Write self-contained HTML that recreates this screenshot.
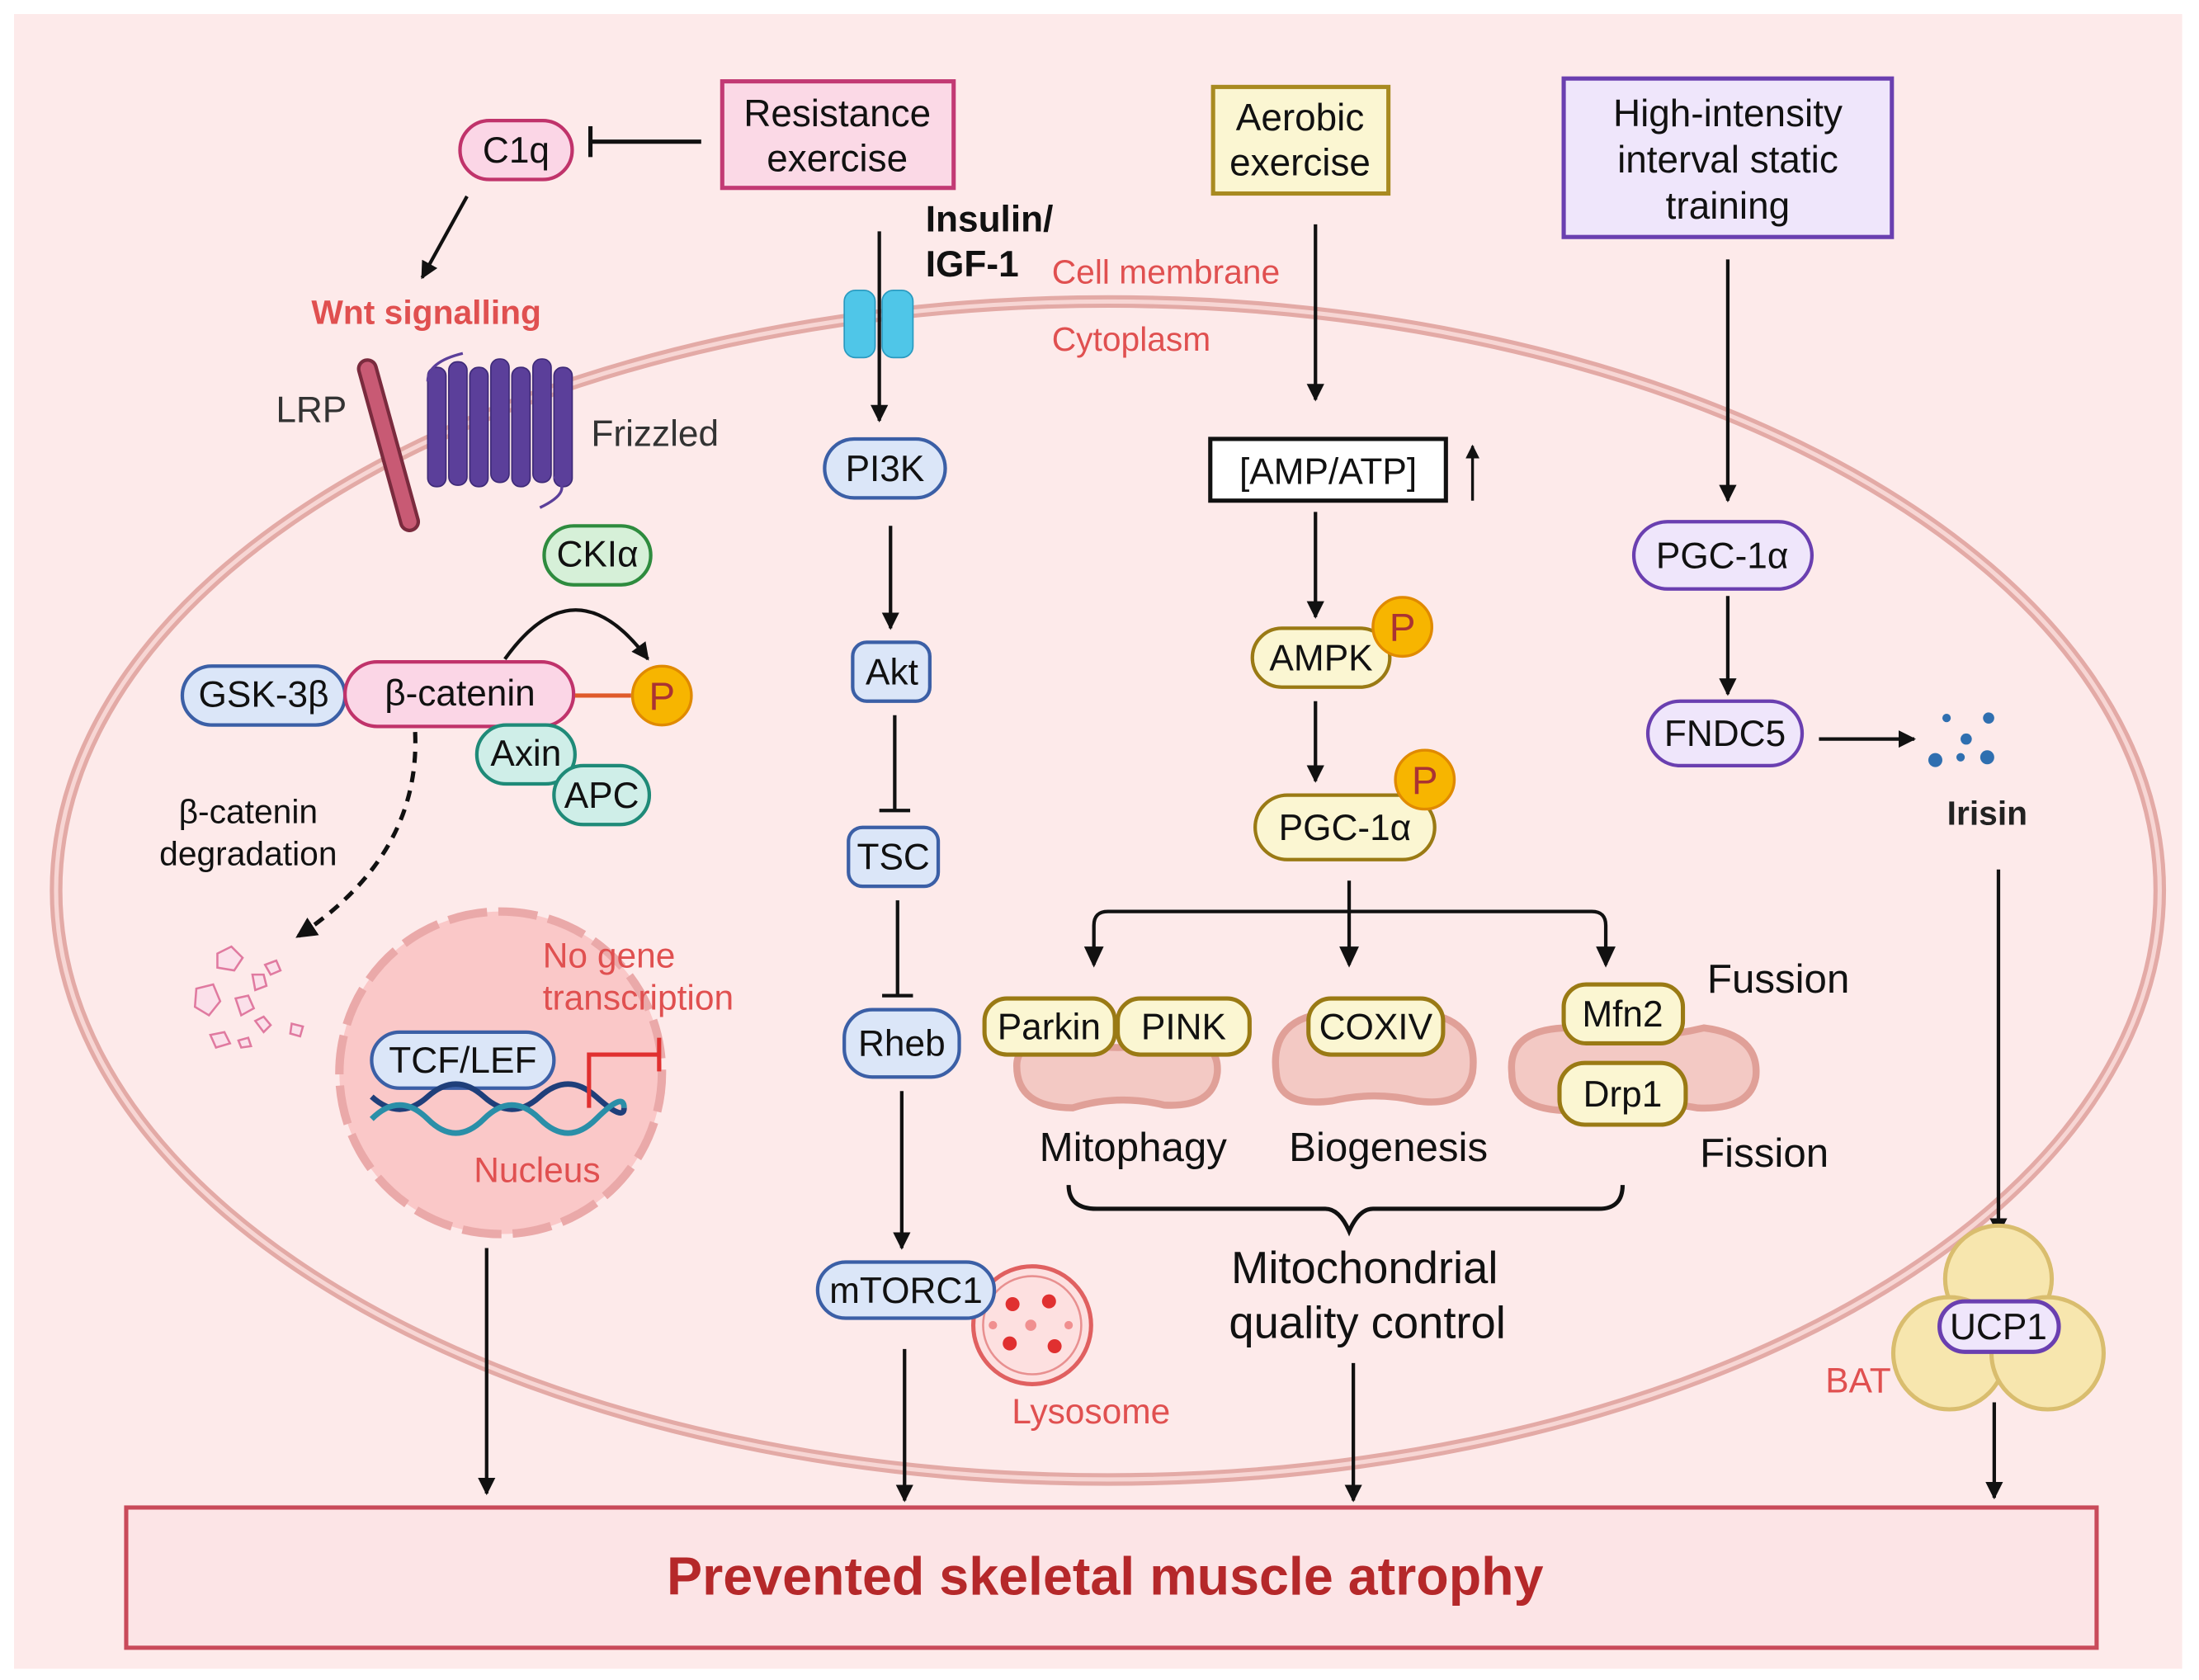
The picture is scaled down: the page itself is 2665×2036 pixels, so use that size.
<!DOCTYPE html>
<html><head><meta charset="utf-8"><style>html,body{margin:0;padding:0;background:#fff}svg{display:block}text{font-family:"Liberation Sans",sans-serif}</style></head><body>
<svg width="2665" height="2036" viewBox="0 0 1568 1198" preserveAspectRatio="none" xmlns="http://www.w3.org/2000/svg">
<defs>
<marker id="a" viewBox="0 0 10 10" refX="9" refY="5" markerWidth="5" markerHeight="5" orient="auto"><path d="M0,0L10,5L0,10z" fill="#111"/></marker>
</defs>
<rect x="10" y="10" width="1546" height="1180" fill="#fdeaea"/>
<ellipse cx="790" cy="635" rx="750" ry="420" fill="none" stroke="#e3aaa6" stroke-width="9"/>
<ellipse cx="790" cy="635" rx="750" ry="420" fill="none" stroke="#f7d6d4" stroke-width="3"/>

<g font-size="26" text-anchor="middle" fill="#111">
<!-- Left -->
<rect x="515" y="58" width="165" height="76" fill="#fbd9e6" stroke="#c23a74" stroke-width="3"/>
<text x="597" y="90" font-size="27">Resistance</text><text x="597" y="122" font-size="27">exercise</text>
<line x1="500" y1="101" x2="421" y2="101" stroke="#111" stroke-width="3"/><line x1="421" y1="90" x2="421" y2="112" stroke="#111" stroke-width="3"/>
<rect x="328" y="86" width="80" height="42" rx="21" fill="#fbd6e6" stroke="#c0336b" stroke-width="2.5"/><text x="368" y="116">C1q</text>
<line x1="333" y1="140" x2="301" y2="198" stroke="#111" stroke-width="2.5" marker-end="url(#a)"/>
<text x="304" y="231" font-size="24" font-weight="bold" fill="#e05050">Wnt signalling</text>
<text x="222" y="301" fill="#333">LRP</text>
<line x1="262" y1="263" x2="292" y2="372" stroke="#7a2b3e" stroke-width="15" stroke-linecap="round"/>
<line x1="262" y1="263" x2="292" y2="372" stroke="#c85a74" stroke-width="10" stroke-linecap="round"/>
<g fill="#5b3f9a" stroke="#3e2a78" stroke-width="1">
<rect x="305" y="262" width="13" height="85" rx="6"/><rect x="320" y="258" width="13" height="88" rx="6"/><rect x="335" y="262" width="13" height="85" rx="6"/><rect x="350" y="256" width="13" height="88" rx="6"/><rect x="365" y="262" width="13" height="85" rx="6"/><rect x="380" y="256" width="13" height="88" rx="6"/><rect x="395" y="262" width="13" height="85" rx="6"/></g>
<path d="M305,272 Q305,258 330,252 M395,340 Q410,350 385,362" fill="none" stroke="#5b3f9a" stroke-width="2"/>
<text x="467" y="318" fill="#333" text-anchor="middle">Frizzled</text>
<rect x="388" y="375" width="76" height="42" rx="21" fill="#d6f0d8" stroke="#2e8b3e" stroke-width="2.5"/><text x="426" y="404">CKIα</text>
<path d="M360,470 Q410,400 462,470" fill="none" stroke="#111" stroke-width="2.5" marker-end="url(#a)"/>
<rect x="130" y="475" width="116" height="42" rx="21" fill="#dbe6f8" stroke="#3b5fa6" stroke-width="2.5"/><text x="188" y="504">GSK-3β</text>
<rect x="246" y="472" width="163" height="46" rx="23" fill="#fbd6e6" stroke="#c0336b" stroke-width="2.5"/><text x="328" y="503">β-catenin</text>
<line x1="410" y1="496" x2="450" y2="496" stroke="#e05a2a" stroke-width="3"/>
<circle cx="472" cy="496" r="21" fill="#f7b500" stroke="#e08a00" stroke-width="2"/><text x="472" y="506" fill="#a33" font-size="28">P</text>
<rect x="340" y="517" width="70" height="42" rx="21" fill="#cfeee8" stroke="#1f8a78" stroke-width="2.5"/><text x="375" y="546">Axin</text>
<rect x="395" y="546" width="68" height="42" rx="21" fill="#cfeee8" stroke="#1f8a78" stroke-width="2.5"/><text x="429" y="576">APC</text>
<path d="M296,522 Q300,610 212,668" fill="none" stroke="#111" stroke-width="3" stroke-dasharray="8,6" marker-end="url(#a)"/>
<path d="M296,522 L297,560" stroke="#fdeaea" stroke-width="0"/>
<text x="177" y="587" font-size="24">β-catenin</text><text x="177" y="617" font-size="24">degradation</text>
<g fill="#fbe0ea" stroke="#e07aa0" stroke-width="1.5">
<path d="M155,680 l10,-5 l8,8 l-6,9 l-12,-2z"/><path d="M140,705 l12,-3 l5,12 l-8,10 l-10,-6z"/><path d="M168,712 l9,-2 l4,9 l-9,5z"/><path d="M180,695 l8,0 l2,8 l-8,3z"/><path d="M150,738 l10,-2 l4,8 l-10,3z"/><path d="M182,728 l6,-3 l5,6 l-5,5z"/><path d="M208,730 l8,2 l-2,7 l-7,-2z"/><path d="M189,688 l8,-3 l3,7 l-7,3z"/><path d="M170,742 l7,-2 l2,6 l-7,1z"/></g>
<circle cx="357" cy="765" r="115" fill="#fac8c8" stroke="#eaa9a9" stroke-width="6" stroke-dasharray="28,8"/>
<rect x="265" y="736" width="130" height="40" rx="20" fill="#dbe6f8" stroke="#3b5fa6" stroke-width="2.5"/><text x="330" y="765">TCF/LEF</text>
<path d="M265,782 Q285,800 305,782 T345,782 T385,782 T425,782 T445,790" fill="none" stroke="#1f3f7a" stroke-width="4"/>
<path d="M265,798 Q285,778 305,798 T345,798 T385,798 T425,798 T445,790" fill="none" stroke="#2a8fa8" stroke-width="4"/>
<path d="M420,790 L420,752 L470,752" fill="none" stroke="#e03030" stroke-width="3"/><line x1="470" y1="740" x2="470" y2="764" stroke="#e03030" stroke-width="3"/>
<text x="387" y="690" fill="#e05050" text-anchor="start" font-size="25">No gene</text>
<text x="387" y="720" fill="#e05050" text-anchor="start" font-size="25">transcription</text>
<text x="383" y="843" fill="#e05050" font-size="25">Nucleus</text>
<line x1="347" y1="890" x2="347" y2="1065" stroke="#111" stroke-width="2.5" marker-end="url(#a)"/>

<!-- Middle -->
<text x="660" y="165" font-weight="bold" text-anchor="start">Insulin/</text><text x="660" y="197" font-weight="bold" text-anchor="start">IGF-1</text>
<rect x="602" y="207" width="22" height="48" rx="8" fill="#4fc6e8" stroke="#2a9ac0"/><rect x="629" y="207" width="22" height="48" rx="8" fill="#4fc6e8" stroke="#2a9ac0"/>
<line x1="627" y1="165" x2="627" y2="300" stroke="#111" stroke-width="2.5" marker-end="url(#a)"/>
<text x="750" y="202" fill="#e05050" text-anchor="start" font-size="24">Cell membrane</text>
<text x="750" y="250" fill="#e05050" text-anchor="start" font-size="24">Cytoplasm</text>
<rect x="588" y="313" width="86" height="42" rx="21" fill="#dbe6f8" stroke="#3b5fa6" stroke-width="2.5"/><text x="631" y="343">PI3K</text>
<line x1="635" y1="375" x2="635" y2="448" stroke="#111" stroke-width="2.5" marker-end="url(#a)"/>
<rect x="608" y="458" width="55" height="42" rx="10" fill="#dbe6f8" stroke="#3b5fa6" stroke-width="2.5"/><text x="636" y="488">Akt</text>
<line x1="638" y1="510" x2="638" y2="578" stroke="#111" stroke-width="2.5"/><line x1="627" y1="578" x2="649" y2="578" stroke="#111" stroke-width="2.5"/>
<rect x="605" y="590" width="64" height="42" rx="10" fill="#dbe6f8" stroke="#3b5fa6" stroke-width="2.5"/><text x="637" y="620">TSC</text>
<line x1="640" y1="642" x2="640" y2="710" stroke="#111" stroke-width="2.5"/><line x1="629" y1="710" x2="651" y2="710" stroke="#111" stroke-width="2.5"/>
<rect x="602" y="720" width="82" height="48" rx="20" fill="#dbe6f8" stroke="#3b5fa6" stroke-width="2.5"/><text x="643" y="753">Rheb</text>
<line x1="643" y1="778" x2="643" y2="890" stroke="#111" stroke-width="2.5" marker-end="url(#a)"/>
<circle cx="736" cy="945" r="42" fill="#fde0e0" stroke="#e06060" stroke-width="3"/><circle cx="736" cy="945" r="35" fill="none" stroke="#e89090" stroke-width="1.5"/>
<g fill="#e03030"><circle cx="722" cy="930" r="5"/><circle cx="748" cy="928" r="5"/><circle cx="735" cy="945" r="4" fill="#f09090"/><circle cx="720" cy="958" r="5"/><circle cx="752" cy="960" r="5"/><circle cx="708" cy="945" r="3" fill="#f09090"/><circle cx="762" cy="945" r="3" fill="#f09090"/></g>
<rect x="583" y="900" width="126" height="40" rx="20" fill="#dbe6f8" stroke="#3b5fa6" stroke-width="2.5"/><text x="646" y="929">mTORC1</text>
<text x="778" y="1015" fill="#e05050" font-size="25">Lysosome</text>
<line x1="645" y1="962" x2="645" y2="1070" stroke="#111" stroke-width="2.5" marker-end="url(#a)"/>

<!-- Aerobic -->
<rect x="865" y="62" width="125" height="76" fill="#fbf6d2" stroke="#a88a20" stroke-width="3"/>
<text x="927" y="93" font-size="27">Aerobic</text><text x="927" y="125" font-size="27">exercise</text>
<line x1="938" y1="160" x2="938" y2="285" stroke="#111" stroke-width="2.5" marker-end="url(#a)"/>
<rect x="863" y="313" width="168" height="44" fill="#fff" stroke="#111" stroke-width="3"/><text x="947" y="345">[AMP/ATP]</text>
<line x1="1050" y1="357" x2="1050" y2="318" stroke="#111" stroke-width="2" marker-end="url(#a)"/>
<line x1="938" y1="365" x2="938" y2="440" stroke="#111" stroke-width="2.5" marker-end="url(#a)"/>
<rect x="893" y="448" width="98" height="42" rx="21" fill="#fbf6d2" stroke="#9a7a14" stroke-width="2.5"/><text x="942" y="478">AMPK</text>
<circle cx="1000" cy="447" r="21" fill="#f7b500" stroke="#e08a00" stroke-width="2"/><text x="1000" y="457" fill="#a33" font-size="28">P</text>
<line x1="938" y1="500" x2="938" y2="557" stroke="#111" stroke-width="2.5" marker-end="url(#a)"/>
<rect x="895" y="567" width="128" height="46" rx="23" fill="#fbf6d2" stroke="#9a7a14" stroke-width="2.5"/><text x="959" y="599">PGC-1α</text>
<circle cx="1016" cy="556" r="21" fill="#f7b500" stroke="#e08a00" stroke-width="2"/><text x="1016" y="566" fill="#a33" font-size="28">P</text>
<path d="M962,628 V650 M780,688 V660 Q780,650 790,650 H1135 Q1145,650 1145,660 V688 M962,650 V688" fill="none" stroke="#111" stroke-width="2.5"/>
<path d="M773,675 L780,690 L787,675z M955,675 L962,690 L969,675z M1138,675 L1145,690 L1152,675z" fill="#111"/>
<g fill="#f3c9c4" stroke="#e0a098" stroke-width="5">
<path d="M725,760 Q725,740 760,742 Q797,752 835,742 Q870,740 868,765 Q865,790 830,788 Q797,780 765,790 Q725,790 725,760z"/>
<path d="M910,765 Q905,725 950,722 Q980,730 1010,722 Q1055,725 1050,765 Q1045,790 1010,785 Q980,778 950,785 Q912,790 910,765z"/>
<path d="M1078,765 Q1075,735 1115,733 Q1165,745 1215,733 Q1255,738 1252,768 Q1248,792 1210,790 Q1165,782 1120,792 Q1078,792 1078,765z"/>
</g>
<rect x="702" y="712" width="93" height="40" rx="16" fill="#fbf6d2" stroke="#9a7a14" stroke-width="3"/><text x="748" y="741">Parkin</text>
<rect x="797" y="712" width="94" height="40" rx="16" fill="#fbf6d2" stroke="#9a7a14" stroke-width="3"/><text x="844" y="741">PINK</text>
<rect x="933" y="712" width="96" height="40" rx="16" fill="#fbf6d2" stroke="#9a7a14" stroke-width="3"/><text x="981" y="741">COXIV</text>
<rect x="1115" y="702" width="85" height="42" rx="16" fill="#fbf6d2" stroke="#9a7a14" stroke-width="3"/><text x="1157" y="732">Mfn2</text>
<rect x="1112" y="758" width="90" height="44" rx="18" fill="#fbf6d2" stroke="#9a7a14" stroke-width="3"/><text x="1157" y="789">Drp1</text>
<text x="808" y="828" font-size="29">Mitophagy</text><text x="990" y="828" font-size="29">Biogenesis</text>
<text x="1268" y="708" font-size="29">Fussion</text><text x="1258" y="832" font-size="29">Fission</text>
<path d="M762,845 Q762,862 782,862 H945 Q955,862 962,878 Q969,862 979,862 H1140 Q1157,862 1157,845" fill="none" stroke="#111" stroke-width="3"/>
<text x="973" y="915" font-size="32">Mitochondrial</text><text x="975" y="954" font-size="32">quality control</text>
<line x1="965" y1="972" x2="965" y2="1070" stroke="#111" stroke-width="2.5" marker-end="url(#a)"/>

<!-- Right -->
<rect x="1115" y="56" width="234" height="113" fill="#efe6fb" stroke="#6a3fb0" stroke-width="3"/>
<text x="1232" y="90" font-size="27">High-intensity</text><text x="1232" y="123" font-size="27">interval static</text><text x="1232" y="156" font-size="27">training</text>
<line x1="1232" y1="185" x2="1232" y2="357" stroke="#111" stroke-width="2.5" marker-end="url(#a)"/>
<rect x="1165" y="372" width="127" height="48" rx="24" fill="#efe6fb" stroke="#6a3fb0" stroke-width="2.5"/><text x="1228" y="405">PGC-1α</text>
<line x1="1232" y1="425" x2="1232" y2="495" stroke="#111" stroke-width="2.5" marker-end="url(#a)"/>
<rect x="1175" y="500" width="110" height="46" rx="23" fill="#efe6fb" stroke="#6a3fb0" stroke-width="2.5"/><text x="1230" y="532">FNDC5</text>
<line x1="1297" y1="527" x2="1365" y2="527" stroke="#111" stroke-width="2.5" marker-end="url(#a)"/>
<g fill="#2f6fb0"><circle cx="1388" cy="512" r="3"/><circle cx="1402" cy="527" r="4"/><circle cx="1418" cy="512" r="4"/><circle cx="1380" cy="542" r="5"/><circle cx="1398" cy="540" r="3"/><circle cx="1417" cy="540" r="5"/></g>
<text x="1417" y="588" font-weight="bold" font-size="24" fill="#222">Irisin</text>
<line x1="1425" y1="620" x2="1425" y2="880" stroke="#111" stroke-width="2.5" marker-end="url(#a)"/>
<g fill="#f7e6ae" stroke="#d9bd6e" stroke-width="3"><circle cx="1425" cy="912" r="38"/><circle cx="1390" cy="965" r="40"/><circle cx="1460" cy="965" r="40"/></g>
<rect x="1383" y="928" width="85" height="36" rx="18" fill="#efe6fb" stroke="#6a3fb0" stroke-width="3"/><text x="1425" y="955">UCP1</text>
<text x="1325" y="993" fill="#e05050" font-size="25">BAT</text>
<line x1="1422" y1="1000" x2="1422" y2="1068" stroke="#111" stroke-width="2.5" marker-end="url(#a)"/>

<rect x="90" y="1075" width="1405" height="100" fill="#fce4e6" stroke="#c94a5a" stroke-width="3"/>
<text x="788" y="1137" font-size="38" font-weight="bold" fill="#b5282a">Prevented skeletal muscle atrophy</text>
</g>
</svg>
</body></html>
